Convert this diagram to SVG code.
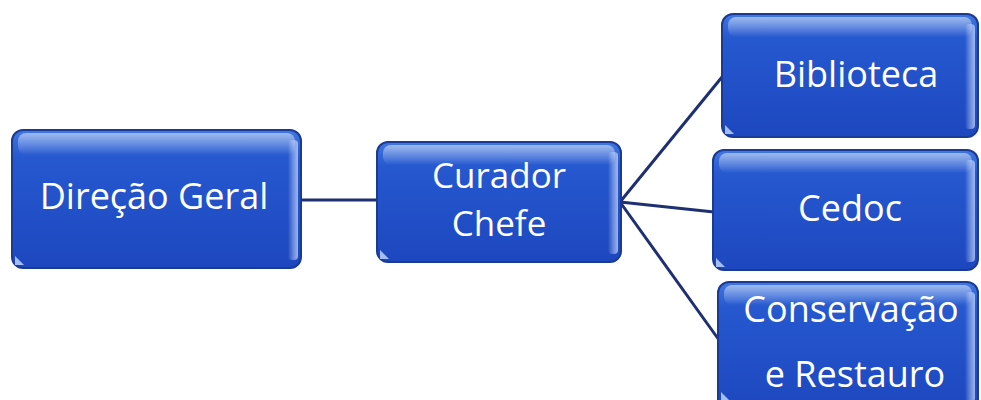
<svg xmlns="http://www.w3.org/2000/svg" width="981" height="400" viewBox="0 0 981 400">
<defs>
<linearGradient id="body" x1="0" y1="0" x2="0" y2="1">
<stop offset="0" stop-color="#4077e0"/>
<stop offset="0.2" stop-color="#2658cf"/>
<stop offset="1" stop-color="#1d47bf"/>
</linearGradient>
<linearGradient id="gloss" x1="0" y1="0" x2="0" y2="1">
<stop offset="0" stop-color="#ffffff" stop-opacity="0.5"/>
<stop offset="1" stop-color="#ffffff" stop-opacity="0"/>
</linearGradient>
<linearGradient id="side" x1="0" y1="0" x2="1" y2="0">
<stop offset="0" stop-color="#ffffff" stop-opacity="0"/>
<stop offset="1" stop-color="#cfe0ff" stop-opacity="0.7"/>
</linearGradient>
</defs>
<style>
.box{fill:url(#body);stroke:#1a3a94;stroke-width:2}
.gl{fill:url(#gloss)}
.sd{fill:url(#side)}
.cn{fill:#b8d2ff;opacity:0.85}
.t{fill:#ffffff;font-family:"Open Sans","Liberation Sans",sans-serif;font-size:36px;text-anchor:middle}
.t2{font-size:35px}
.ln{stroke:#1e2f72;stroke-width:3;fill:none;stroke-linecap:round}
</style>
<rect width="981" height="400" fill="#ffffff"/>
<g id="connectors">
<line class="ln" x1="301" y1="200" x2="377" y2="200"/>
<line class="ln" x1="620" y1="202" x2="722" y2="77"/>
<line class="ln" x1="620" y1="202" x2="714" y2="212"/>
<line class="ln" x1="620" y1="202" x2="719" y2="340"/>
</g>
<g id="direcao-geral">
<rect class="box" x="12" y="130" width="289" height="138" rx="11"/>
<rect class="gl" x="18" y="133" width="277" height="22" rx="8"/>
<rect class="sd" x="288" y="140" width="10" height="120" rx="4"/>
<path class="cn" d="M15 265 L15 256 L24 265 Z"/>
<text class="t" x="154" y="209">Direção Geral</text>
</g>
<g id="curador-chefe">
<rect class="box" x="377" y="142" width="244" height="120" rx="11"/>
<rect class="gl" x="383" y="145" width="232" height="20" rx="8"/>
<rect class="sd" x="608" y="152" width="10" height="102" rx="4"/>
<path class="cn" d="M380 259 L380 250 L389 259 Z"/>
<text class="t t2" x="499" y="188">Curador</text>
<text class="t t2" x="499" y="236">Chefe</text>
</g>
<g id="biblioteca">
<rect class="box" x="722" y="14" width="256" height="123" rx="11"/>
<rect class="gl" x="728" y="17" width="244" height="20" rx="8"/>
<rect class="sd" x="965" y="24" width="10" height="105" rx="4"/>
<path class="cn" d="M725 134 L725 125 L734 134 Z"/>
<text class="t" x="856" y="87">Biblioteca</text>
</g>
<g id="cedoc">
<rect class="box" x="713" y="150" width="265" height="120" rx="11"/>
<rect class="gl" x="719" y="153" width="253" height="20" rx="8"/>
<rect class="sd" x="965" y="160" width="10" height="102" rx="4"/>
<path class="cn" d="M716 267 L716 258 L725 267 Z"/>
<text class="t" x="850" y="221">Cedoc</text>
</g>
<g id="conservacao">
<rect class="box" x="718" y="282" width="260" height="128" rx="11"/>
<rect class="gl" x="724" y="285" width="248" height="20" rx="8"/>
<rect class="sd" x="965" y="292" width="10" height="110" rx="4"/>
<path class="cn" d="M721 400 L721 392 L729 400 Z"/>
<text class="t" x="851" y="322">Conservação</text>
<text class="t" x="855" y="387">e Restauro</text>
</g>
</svg>
